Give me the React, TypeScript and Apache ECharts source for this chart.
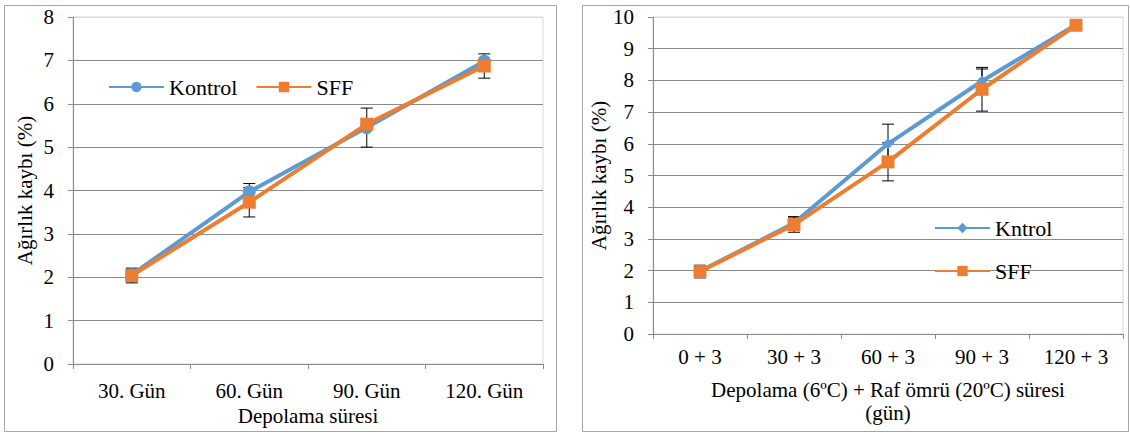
import React, { useEffect, useRef } from "react";
import * as echarts from "echarts";

const leftCats = ["30. Gün", "60. Gün", "90. Gün", "120. Gün"];
const leftKontrol = [2.06, 3.97, 5.45, 6.98];
const leftKontrolErr = [0.1, 0.19, 0.45, 0.05];
const leftSFF = [2.04, 3.73, 5.53, 6.87];
const leftSFFErr = [0.17, 0.34, 0.12, 0.28];

const rightCats = ["0 + 3", "30 + 3", "60 + 3", "90 + 3", "120 + 3"];
const rightKontrol = [1.98, 3.5, 6.0, 7.98, 9.76];
const rightKontrolErr = [0.1, 0.2, 0.62, 0.38, 0.05];
const rightSFF = [1.97, 3.45, 5.43, 7.72, 9.74];
const rightSFFErr = [0.2, 0.24, 0.6, 0.69, 0.05];

const BLUE = "#5B9BD5";
const ORANGE = "#ED7D31";
const FONT = "'Liberation Serif', 'DejaVu Serif', serif";

function errData(vals: number[], errs: number[]) {
  return vals.map((v, i) => [i, v - errs[i], v + errs[i]]);
}

function errSeries(name: string, xi: number, vals: number[], errs: number[]) {
  return {
    type: "custom",
    name: name + "_err",
    xAxisIndex: xi,
    yAxisIndex: xi,
    z: 1,
    silent: true,
    data: errData(vals, errs),
    renderItem: (params: any, api: any) => {
      const i = api.value(0);
      const lo = api.coord([i, api.value(1)]);
      const hi = api.coord([i, api.value(2)]);
      const w = 6;
      const st = { stroke: "#000", lineWidth: 1 };
      return {
        type: "group",
        children: [
          { type: "line", shape: { x1: lo[0], y1: lo[1], x2: hi[0], y2: hi[1] }, style: st },
          { type: "line", shape: { x1: lo[0] - w, y1: lo[1], x2: lo[0] + w, y2: lo[1] }, style: st },
          { type: "line", shape: { x1: hi[0] - w, y1: hi[1], x2: hi[0] + w, y2: hi[1] }, style: st },
        ],
      };
    },
  };
}

function lineSeries(name: string, xi: number, data: number[], color: string, symbol: string, size: number) {
  return {
    type: "line",
    name,
    xAxisIndex: xi,
    yAxisIndex: xi,
    data,
    symbol,
    symbolSize: size,
    z: 3,
    lineStyle: { color, width: 4 },
    itemStyle: { color },
  };
}

export default function App() {
  const ref = useRef<HTMLDivElement>(null);
  useEffect(() => {
    const chart = echarts.init(ref.current!, null, { renderer: "svg" });
    const gridColor = "#8A8A8A";
    const lightColor = "#D9D9D9";
    const axisLine = { show: true, lineStyle: { color: gridColor, width: 1 } };
    const labelStyle = { color: "#000", fontFamily: FONT, fontSize: 21 };
    const nameStyle = { color: "#000", fontFamily: FONT, fontSize: 21 };
    const leftSplitColors = [gridColor, gridColor, gridColor, gridColor, gridColor, gridColor, gridColor, gridColor, lightColor];
    const rightSplitColors = [gridColor, gridColor, gridColor, gridColor, gridColor, gridColor, gridColor, gridColor, gridColor, gridColor, lightColor];
    chart.setOption({
      animation: false,
      textStyle: { fontFamily: FONT },
      graphic: [
        { type: "rect", shape: { x: 4.5, y: 5.5, width: 552, height: 426 }, style: { fill: "none", stroke: "#A6A6A6", lineWidth: 1 } },
        { type: "rect", shape: { x: 582.5, y: 5.5, width: 546, height: 426 }, style: { fill: "none", stroke: "#A6A6A6", lineWidth: 1 } },
      ],
      grid: [
        { left: 73, top: 17, width: 470, height: 347, show: true, borderColor: lightColor, borderWidth: 1 },
        { left: 653, top: 17, width: 470, height: 317, show: true, borderColor: lightColor, borderWidth: 1 },
      ],
      legend: [
        {
          left: 103,
          top: 71,
          orient: "horizontal",
          data: ["Kontrol", "SFF"],
          itemWidth: 55,
          itemHeight: 13,
          itemGap: 18,
          textStyle: { color: "#000", fontFamily: FONT, fontSize: 22 },
        },
        {
          left: 929,
          top: 212,
          orient: "vertical",
          data: ["Kntrol", { name: "SFF" }],
          itemWidth: 55,
          itemHeight: 13,
          itemGap: 21,
          textStyle: { color: "#000", fontFamily: FONT, fontSize: 22 },
        },
      ],
      xAxis: [
        {
          type: "category",
          gridIndex: 0,
          data: leftCats,
          boundaryGap: true,
          axisLine,
          axisTick: { show: true, length: 5, lineStyle: { color: gridColor } },
          axisLabel: { ...labelStyle, margin: 16 },
          name: "Depolama süresi",
          nameLocation: "middle",
          nameGap: 41,
          nameTextStyle: nameStyle,
        },
        {
          type: "category",
          gridIndex: 1,
          data: rightCats,
          boundaryGap: true,
          axisLine,
          axisTick: { show: true, length: 5, lineStyle: { color: gridColor } },
          axisLabel: { ...labelStyle, margin: 12 },
          name: "Depolama (6ºC) + Raf ömrü (20ºC) süresi\n(gün)",
          nameLocation: "middle",
          nameGap: 44,
          nameTextStyle: { ...nameStyle, lineHeight: 23 },
        },
      ],
      yAxis: [
        {
          type: "value",
          gridIndex: 0,
          min: 0,
          max: 8,
          interval: 1,
          axisLine,
          axisTick: { show: true, length: 5, lineStyle: { color: gridColor } },
          axisLabel: { ...labelStyle, margin: 19 },
          splitLine: { show: true, lineStyle: { color: leftSplitColors, width: 1 } },
          name: "Ağırlık kaybı (%)",
          nameLocation: "middle",
          nameGap: 38,
          nameTextStyle: nameStyle,
        },
        {
          type: "value",
          gridIndex: 1,
          min: 0,
          max: 10,
          interval: 1,
          axisLine,
          axisTick: { show: true, length: 5, lineStyle: { color: gridColor } },
          axisLabel: { ...labelStyle, margin: 19 },
          splitLine: { show: true, lineStyle: { color: rightSplitColors, width: 1 } },
          name: "Ağırlık kaybı (%)",
          nameLocation: "middle",
          nameGap: 40,
          nameTextStyle: nameStyle,
        },
      ],
      series: [
        errSeries("Kontrol", 0, leftKontrol, leftKontrolErr),
        errSeries("SFF", 0, leftSFF, leftSFFErr),
        lineSeries("Kontrol", 0, leftKontrol, BLUE, "circle", 13),
        lineSeries("SFF", 0, leftSFF, ORANGE, "rect", 13),
        errSeries("Kntrol", 1, rightKontrol, rightKontrolErr),
        errSeries("SFF", 1, rightSFF, rightSFFErr),
        lineSeries("Kntrol", 1, rightKontrol, BLUE, "diamond", 11),
        lineSeries("SFF", 1, rightSFF, ORANGE, "rect", 13),
      ],
    });
    return () => chart.dispose();
  }, []);
  return (
    <div
      ref={ref}
      style={{ position: "fixed", left: 0, top: 0, width: 1130, height: 435, background: "#fff" }}
    />
  );
}
